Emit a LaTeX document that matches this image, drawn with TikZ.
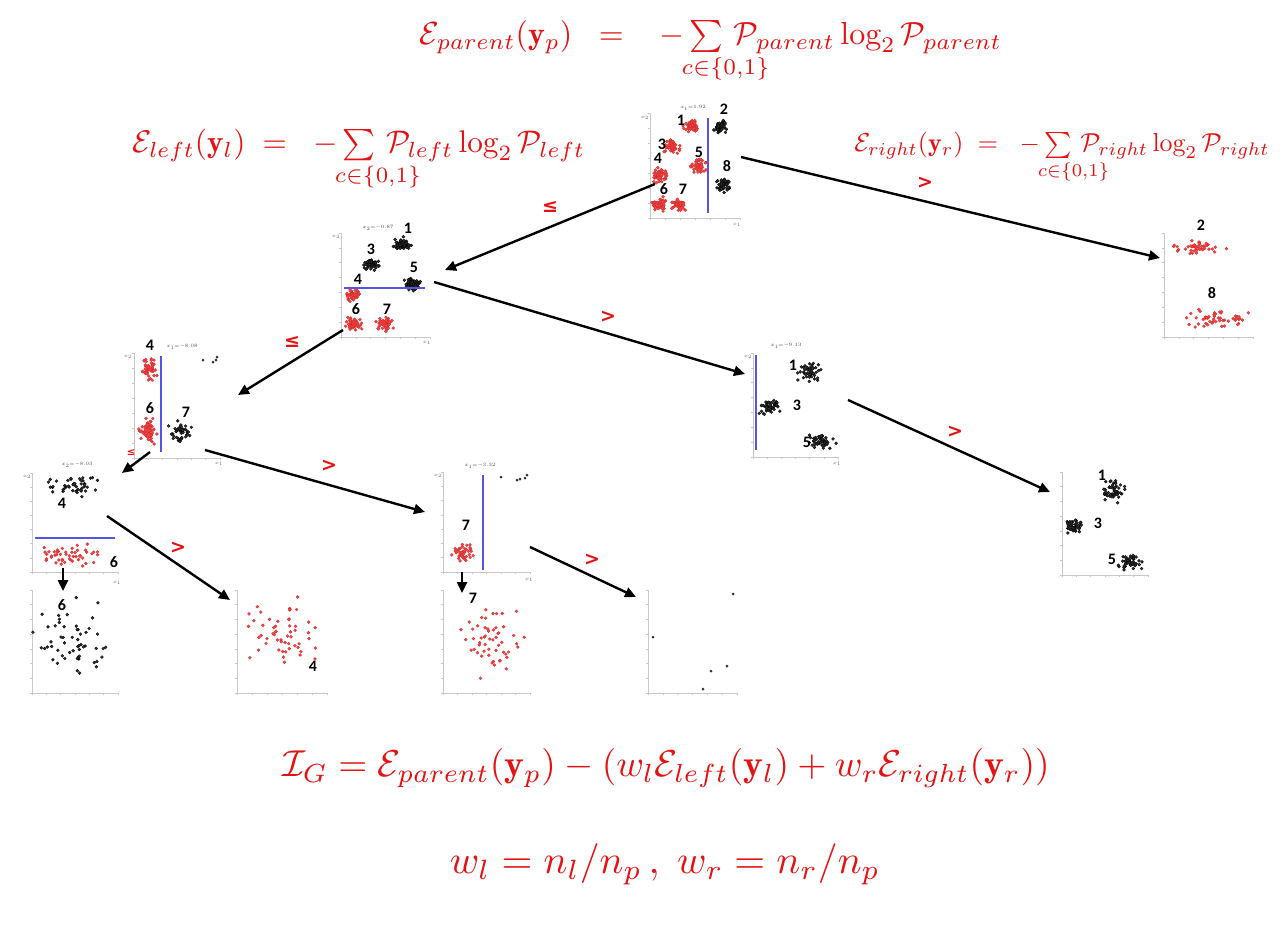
\documentclass[tikz,border=0pt]{standalone}
\usepackage{graphicx}
\usepackage{amsmath}
\usepackage{mathtools}
\usepackage{fontspec}
\newfontfamily\numfont{Carlito}
\newfontfamily\symfont{DejaVu Sans}
\usetikzlibrary{arrows.meta}
\definecolor{fred}{RGB}{228,18,18}
\definecolor{dotred}{RGB}{240,75,75}
\definecolor{dotredd}{RGB}{215,40,40}
\definecolor{dotblk}{RGB}{50,50,50}
\definecolor{axgray}{RGB}{200,200,200}
\definecolor{splitblue}{RGB}{85,85,225}
\newcommand\clust[7]{%
  \pgfmathsetseed{#7}%
  \foreach \k in {1,...,#5}{%
    \pgfmathsetmacro\px{#1+#3*(rand+rand+rand)*0.57}%
    \pgfmathsetmacro\py{#2+#4*(rand+rand+rand)*0.57}%
    \filldraw[#6] (\px,\py) circle[radius=1.5pt];
  }}
\newcommand\axbox[4]{%
  \draw[axisline] (#1,#2) -- (#1,#3) -- (#4,#3);
  \pgfmathsetmacro\ystp{(#3-#2)/7}%
  \foreach \j in {0,...,7}{\draw[axisline] (#1,#3-\j*\ystp) -- ++(-2,0);}
  \pgfmathsetmacro\xstp{(#4-#1)/6}%
  \foreach \j in {0,...,6}{\draw[axisline] (#1+\j*\xstp,#3) -- ++(0,2);}
}
\newcommand\csum{\sum\limits_{\mathclap{\hspace{1.2em}c\in\{0,1\}}}\,}
\begin{document}
\begin{tikzpicture}[x=1pt,y=-1pt,
  axisline/.style={draw=axgray,line width=0.6pt},
  rd/.style={fill=dotred,draw=dotredd,line width=0.3pt},
  bk/.style={fill=dotblk,draw=black,line width=0.3pt},
  numlab/.style={font=\numfont\bfseries\fontsize{16}{16}\selectfont,text=black,inner sep=0pt},
  ttl/.style={font=\fontsize{4.5}{5}\selectfont,text=black!70,inner sep=0pt},
  axlab/.style={font=\fontsize{4}{5}\selectfont,text=black!60,inner sep=0pt},
  split/.style={draw=splitblue,line width=1.6pt},
  conn/.style={draw=black,line width=2.4pt,-{Triangle[length=11pt,width=10pt]}},
  opl/.style={font=\symfont\bfseries\fontsize{19}{19}\selectfont,text=fred,inner sep=0pt},
  formula/.style={text=fred,inner sep=0pt}]
\fill[white] (0,0) rectangle (1280,929);
\useasboundingbox (0,0) rectangle (1280,929);

% ---------- formulas ----------
\node[formula] (fp) at (711,52) {\resizebox{582pt}{!}{$\mathcal{E}_{parent}(\mathbf{y}_p)\;\;=\;\;\;-\csum\mathcal{P}_{parent}\log_2\mathcal{P}_{parent}$}};
\node[formula] (fl) at (359,160) {\resizebox{452pt}{!}{$\mathcal{E}_{left}(\mathbf{y}_l)\;=\;\;-\csum\mathcal{P}_{left}\log_2\mathcal{P}_{left}$}};
\node[formula] (fr) at (1062,158) {\resizebox{415pt}{!}{$\mathcal{E}_{right}(\mathbf{y}_r)\;=\;\;-\csum\mathcal{P}_{right}\log_2\mathcal{P}_{right}$}};
\node[formula] (fig) at (666,768) {\resizebox{767pt}{!}{$\mathcal{I}_G=\mathcal{E}_{parent}(\mathbf{y}_p)-(w_l\mathcal{E}_{left}(\mathbf{y}_l)+w_r\mathcal{E}_{right}(\mathbf{y}_r))$}};
\node[formula] (fw) at (665,864) {\resizebox{430pt}{!}{$w_l=n_l/n_p\,,\;w_r=n_r/n_p$}};

% ---------- Plot A (root) ----------
\axbox{650}{113}{218}{740}
\node[ttl] (tA) at (693,108) {$x_1{=}1.92$};
\node[axlab] (yA) at (645,118) {$x_2$};
\node[axlab] (xA) at (737,225) {$x_1$};
\clust{691}{126}{5.5}{5}{55}{rd}{11}
\clust{720}{127}{5.5}{5}{55}{bk}{12}
\clust{672}{147}{5.5}{5}{55}{rd}{13}
\clust{660}{175}{5.5}{5}{55}{rd}{14}
\clust{698}{166}{5.5}{5}{55}{rd}{15}
\clust{723}{185}{5.5}{5}{55}{bk}{16}
\clust{659}{204}{5.5}{5}{55}{rd}{17}
\clust{679}{205}{5.5}{5}{55}{rd}{18}
\draw[split] (708,118) -- (708,213);
\node[numlab] (A1) at (681,120) {1};
\node[numlab] (A2) at (724,109) {2};
\node[numlab] (A3) at (662,144) {3};
\node[numlab] (A4) at (658,158) {4};
\node[numlab] (A5) at (699,152) {5};
\node[numlab] (A8) at (727,166) {8};
\node[numlab] (A6) at (664,189) {6};
\node[numlab] (A7) at (683,189) {7};

% ---------- Plot B ----------
\axbox{341}{233}{337}{430}
\node[ttl] (tB) at (378,228) {$x_2{=}{-}0.87$};
\node[axlab] (yB) at (336,237) {$x_2$};
\node[axlab] (xB) at (427,343) {$x_1$};
\clust{402}{244}{6}{5}{55}{bk}{21}
\clust{372}{264}{6}{5}{55}{bk}{22}
\clust{413}{284}{6}{5}{55}{bk}{23}
\clust{353}{294}{6}{5}{55}{rd}{24}
\clust{353}{324}{6}{5}{55}{rd}{25}
\clust{385}{324}{6}{5}{55}{rd}{26}
\draw[split] (344,288) -- (425,288);
\node[numlab] (B1) at (408,228) {1};
\node[numlab] (B3) at (371,249) {3};
\node[numlab] (B5) at (414,267) {5};
\node[numlab] (B4) at (358,279) {4};
\node[numlab] (B6) at (356,309) {6};
\node[numlab] (B7) at (387,309) {7};

% ---------- Plot C ----------
\axbox{134}{353}{458}{220}
\node[ttl] (tC) at (182,347) {$x_1{=}{-}8.08$};
\node[axlab] (yC) at (128,357) {$x_2$};
\node[axlab] (xC) at (219,464) {$x_1$};
\clust{149}{368}{7}{10}{50}{rd}{31}
\clust{148}{432}{7}{11}{55}{rd}{32}
\clust{180}{432}{8}{8}{45}{bk}{33}
\fill[dotblk] (203,360) circle[radius=1.5pt] (213,362) circle[radius=1.5pt] (216,360) circle[radius=1.5pt] (217,357) circle[radius=1.5pt];
\draw[split] (161,356) -- (161,452);
\node[numlab] (C4) at (150,345) {4};
\node[numlab] (C6) at (150,408) {6};
\node[numlab] (C7) at (186,412) {7};

% ---------- Plot D ----------
\axbox{32}{473}{572}{118}
\node[ttl] (tD) at (77,465) {$x_2{=}{-}8.03$};
\node[axlab] (yD) at (27,477) {$x_2$};
\node[axlab] (xD) at (117,583) {$x_1$};
\clust{72}{486}{24}{8}{45}{bk}{41}
\clust{73}{556}{25}{9}{50}{rd}{42}
\draw[split] (35,538) -- (115,538);
\node[numlab] (D4) at (62,503) {4};
\node[numlab] (D6) at (114,562) {6};

% ---------- Plot E ----------
\axbox{443}{472}{572}{530}
\node[ttl] (tE) at (480,466) {$x_1{=}{-}3.32$};
\node[axlab] (yE) at (438,476) {$x_2$};
\node[axlab] (xE) at (529,580) {$x_1$};
\clust{463}{553}{9}{8}{45}{rd}{51}
\fill[dotblk] (501,477) circle[radius=1.5pt] (517,480) circle[radius=1.5pt] (520,479) circle[radius=1.5pt] (525,478) circle[radius=1.5pt] (527,475) circle[radius=1.5pt];
\draw[split] (483,475) -- (483,570);
\node[numlab] (E7) at (466,525) {7};

% ---------- Plot F ----------
\axbox{753}{353}{457}{838}
\node[ttl] (tF) at (786,346) {$x_1{=}{-}9.13$};
\node[axlab] (yF) at (748,357) {$x_2$};
\node[axlab] (xF) at (837,464) {$x_1$};
\clust{808}{371}{9}{8}{50}{bk}{61}
\clust{771}{407}{8}{6}{45}{bk}{62}
\clust{822}{442}{9}{6}{50}{bk}{63}
\draw[split] (756,355) -- (756,450);
\node[numlab] (F1) at (793,365) {1};
\node[numlab] (F3) at (797,405) {3};
\node[numlab] (F5) at (807,442) {5};

% ---------- Plot G (right leaf) ----------
\axbox{1164}{233}{337}{1253}
\clust{1197}{247}{22}{6}{45}{rd}{71}
\clust{1217}{318}{26}{8}{50}{rd}{72}
\node[numlab] (G2) at (1201,225) {2};
\node[numlab] (G8) at (1212,293) {8};

% ---------- Plot H ----------
\axbox{1062}{472}{575}{1148}
\clust{1114}{491}{9}{8}{50}{bk}{81}
\clust{1075}{527}{8}{6}{45}{bk}{82}
\clust{1130}{562}{9}{6}{50}{bk}{83}
\node[numlab] (H1) at (1102,475) {1};
\node[numlab] (H3) at (1098,523) {3};
\node[numlab] (H5) at (1112,559) {5};

% ---------- Plot I (leaf 6) ----------
\axbox{32}{590}{693}{118}
\clust{73}{640}{27}{27}{55}{bk}{91}
\node[numlab] (I6) at (62,605) {6};

% ---------- Plot J (leaf 4) ----------
\axbox{237}{590}{693}{327}
\clust{283}{635}{27}{26}{55}{rd}{101}
\node[numlab] (J4) at (313,666) {4};

% ---------- Plot K (leaf 7) ----------
\axbox{443}{590}{693}{530}
\clust{488}{642}{27}{26}{55}{rd}{111}
\node[numlab] (K7) at (473,598) {7};

% ---------- Plot L ----------
\axbox{648}{590}{693}{737}
\fill[dotblk] (733,594) circle[radius=1.5pt] (653,637) circle[radius=1.5pt] (727,666) circle[radius=1.5pt] (711,671) circle[radius=1.5pt] (703,689) circle[radius=1.5pt];

% ---------- connectors ----------
\coordinate (a1s) at (655,184); \coordinate (a1e) at (445,270);
\coordinate (a2s) at (741,157); \coordinate (a2e) at (1160,258);
\coordinate (a3s) at (343,330); \coordinate (a3e) at (238,395);
\coordinate (a4s) at (434,282); \coordinate (a4e) at (745,374);
\coordinate (a5s) at (848,400); \coordinate (a5e) at (1050,492);
\coordinate (a6s) at (150,452); \coordinate (a6e) at (122,473);
\coordinate (a7s) at (205,450); \coordinate (a7e) at (425,512);
\coordinate (a8s) at (63,568);  \coordinate (a8e) at (63,591);
\coordinate (a9s) at (107,516); \coordinate (a9e) at (230,600);
\coordinate (a10s) at (462,572); \coordinate (a10e) at (462,593);
\coordinate (a11s) at (530,547); \coordinate (a11e) at (636,597);
\draw[conn] (a1s) -- (a1e);
\draw[conn] (a2s) -- (a2e);
\draw[conn] (a3s) -- (a3e);
\draw[conn] (a4s) -- (a4e);
\draw[conn] (a5s) -- (a5e);
\draw[conn] (a6s) -- (a6e);
\draw[conn] (a7s) -- (a7e);
\draw[conn] (a8s) -- (a8e);
\draw[conn] (a9s) -- (a9e);
\draw[conn] (a10s) -- (a10e);
\draw[conn] (a11s) -- (a11e);

% ---------- connector labels ----------
\node[opl] (l1) at (550,207) {≤};
\node[opl] (l2) at (925,183) {>};
\node[opl] (l3) at (292,342) {≤};
\node[opl] (l4) at (608,317) {>};
\node[opl] (l5) at (955,432) {>};
\node[opl] (l6) at (329,466) {>};
\node[opl] (l7) at (178,548) {>};
\node[opl] (l8) at (592,560) {>};
\node[opl,font=\symfont\bfseries\fontsize{10}{10}\selectfont] (l9) at (131,453) {≤};
\end{tikzpicture}
\end{document}
